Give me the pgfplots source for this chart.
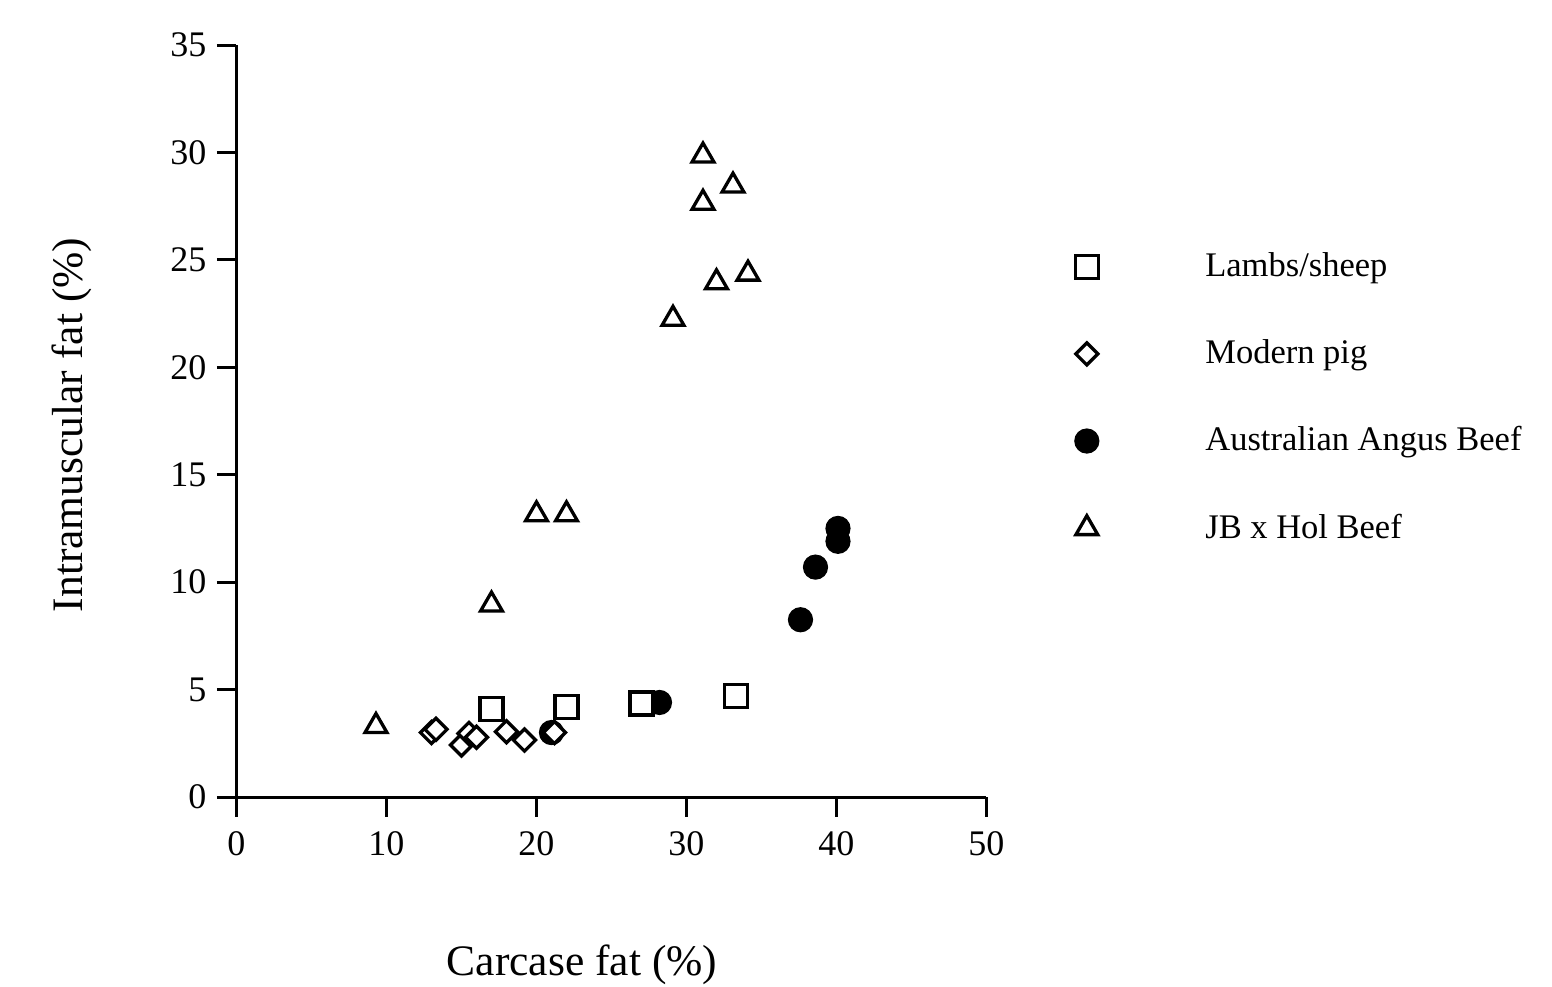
\documentclass[border=0pt]{standalone}
\usepackage{fontspec}
\setmainfont{Liberation Serif}
\usepackage{pgfplots}
\pgfplotsset{compat=1.18}
\begin{document}
\begin{tikzpicture}
\begin{axis}[
  scale only axis,
  width=250pt, height=250.67pt,
  xmin=0, xmax=50, ymin=0, ymax=35,
  axis x line*=bottom, axis y line*=left,
  axis line style={line width=1pt, black},
  xtick={0,10,...,50}, ytick={0,5,...,35},
  tick align=outside, major tick length=6.5pt,
  tick style={line width=1pt, black},
  /pgf/number format/assume math mode=true,
  ticklabel style={font=\fontsize{12}{14}\selectfont},
  xticklabel style={yshift=-1.5pt},
  xlabel={Carcase fat (\%)},
  ylabel={Intramuscular fat (\%)},
  label style={font=\fontsize{14.5}{16}\selectfont},
  xlabel style={at={(axis description cs:0.4607,-0.2234)}, anchor=center},
  ylabel style={at={(axis description cs:-0.219,0.4947)}, anchor=center, rotate=0},
  legend style={draw=none, fill=none, at={(axis description cs:1.105,0.7405)}, anchor=north west,
    font=\fontsize{11.5}{13}\selectfont, row sep=15.5pt,
    /tikz/every odd column/.append style={column sep=33.5pt}},
  legend cell align=left,
]
\addlegendimage{only marks, mark=square*, mark size=3.8pt, mark options={fill=white, draw=black, line width=1.1pt}}
\addlegendentry{Lambs/sheep}
\addlegendimage{only marks, mark=square*, mark size=2.6pt, mark options={rotate=45, fill=white, draw=black, line width=1.1pt}}
\addlegendentry{Modern pig}
\addlegendimage{only marks, mark=*, mark size=4pt, mark options={fill=black, draw=black}}
\addlegendentry{Australian Angus Beef}
\addlegendimage{only marks, mark=triangle*, mark size=4.2pt, mark options={fill=white, draw=black, line width=1.1pt}}
\addlegendentry{JB x Hol Beef}

% Australian Angus Beef
\addplot[forget plot, only marks, mark=*, mark size=4pt, mark options={fill=black, draw=black}]
  coordinates {(21.0,3.0) (28.2,4.4) (37.6,8.25) (38.6,10.7) (40.1,11.9) (40.1,12.5)};
% Modern pig
\addplot[forget plot, only marks, mark=square*, mark size=2.6pt, mark options={rotate=45, fill=white, draw=black, line width=1.1pt}]
  coordinates {(13.0,3.0) (13.3,3.15) (15.0,2.42) (15.5,2.96) (16.0,2.78) (18.0,3.04) (19.2,2.65) (21.2,3.0)};
% Lambs/sheep
\addplot[forget plot, only marks, mark=square*, mark size=3.8pt, mark options={fill=white, draw=black, line width=1.1pt}]
  coordinates {(17.0,4.1) (22.0,4.2) (27.0,4.35) (33.3,4.7)};
% JB x Hol Beef
\addplot[forget plot, only marks, mark=triangle*, mark size=4.2pt, mark options={fill=white, draw=black, line width=1.1pt}]
  coordinates {(9.3,3.3) (17.0,8.95) (20.0,13.15) (22.0,13.15) (29.1,22.25) (31.1,29.85) (31.1,27.65) (32.0,23.95) (33.1,28.45) (34.1,24.35)};
\end{axis}
\pgfresetboundingbox
\path (-78.83pt,-63.33pt) rectangle (438.5pt,265.67pt);
\end{tikzpicture}
\end{document}
